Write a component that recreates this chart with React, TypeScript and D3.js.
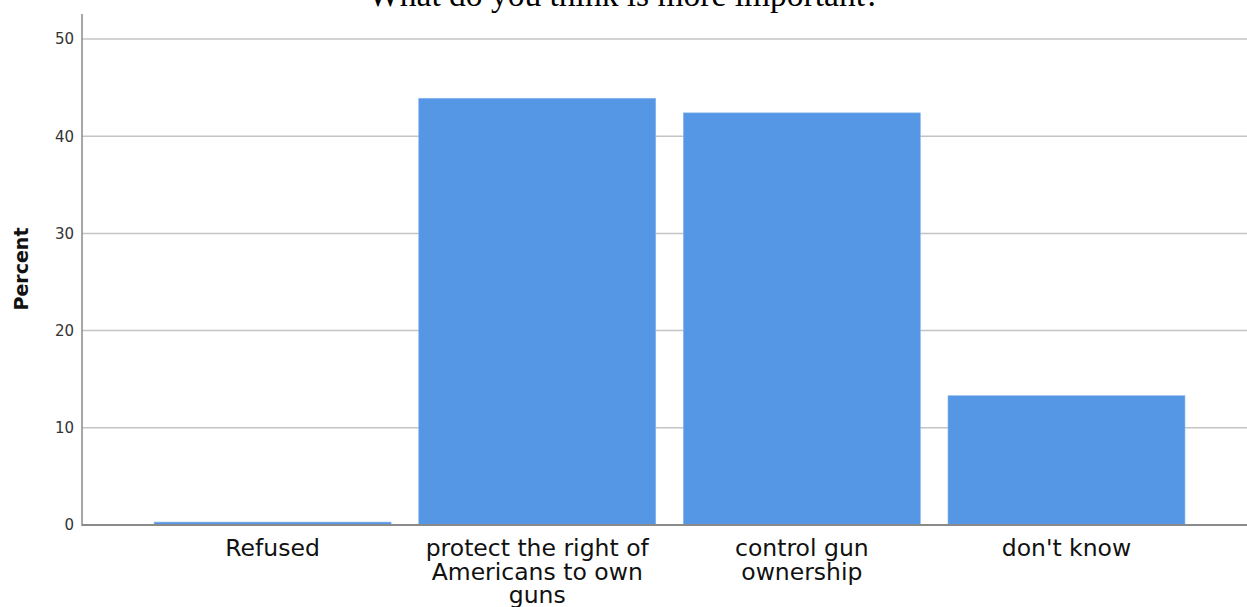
import React from "react";
import * as d3 from "d3";

const categories = ["Refused", "protect the right of Americans to own guns", "control gun ownership", "don't know"];
const labelLines = [["Refused"], ["protect the right of", "Americans to own", "guns"], ["control gun", "ownership"], ["don't know"]];
const percents = [0.3, 43.9, 42.4, 13.3];
const yTicks = [0, 10, 20, 30, 40, 50];
const title = "What do you think is more important?";
const yLabel = "Percent";

const W = 1247;
const H = 607;

export default function App() {
  const x = d3.scaleBand<string>().domain(categories).range([140.3, 1198.8]).paddingInner(0.1045).paddingOuter(0.0523);
  const y = d3.scaleLinear().domain([0, 50]).range([525, 39]);
  const axisX = 82;
  return (
    <svg width={W} height={H} style={{ position: "absolute", left: 0, top: 0, background: "#fff" }}>
      <text x={624} y={6} textAnchor="middle" fontFamily="Liberation Serif" fontSize={33.5} fill="#000">{title}</text>
      {yTicks.map((t) => (
        <g key={t}>
          {t > 0 && <line x1={axisX} x2={W} y1={y(t)} y2={y(t)} stroke="#c4c4c4" strokeWidth={1.5} />}
          <text x={74} y={y(t)} dy="0.36em" textAnchor="end" fontFamily="DejaVu Sans" fontSize={15} fill="#333">{t}</text>
        </g>
      ))}
      {categories.map((c, i) => (
        <rect key={c} x={x(c)} y={y(percents[i])} width={x.bandwidth()} height={y(0) - y(percents[i])} fill="#5596e5" stroke="#8ab5ee" strokeWidth={0.6} />
      ))}
      <line x1={axisX} x2={W} y1={y(0)} y2={y(0)} stroke="#8a8a8a" strokeWidth={2} />
      <line x1={axisX} x2={axisX} y1={14} y2={y(0) + 1} stroke="#8a8a8a" strokeWidth={1.5} />
      {categories.map((c, i) => (
        <text key={c} textAnchor="middle" fontFamily="DejaVu Sans" fontSize={23.5} fill="#111">
          {labelLines[i].map((l, j) => (
            <tspan key={j} x={(x(c) as number) + x.bandwidth() / 2} y={556 + j * 23.5}>{l}</tspan>
          ))}
        </text>
      ))}
      <text transform={`translate(28,269) rotate(-90)`} textAnchor="middle" fontFamily="DejaVu Sans" fontWeight="bold" fontSize={19} fill="#111">{yLabel}</text>
    </svg>
  );
}
